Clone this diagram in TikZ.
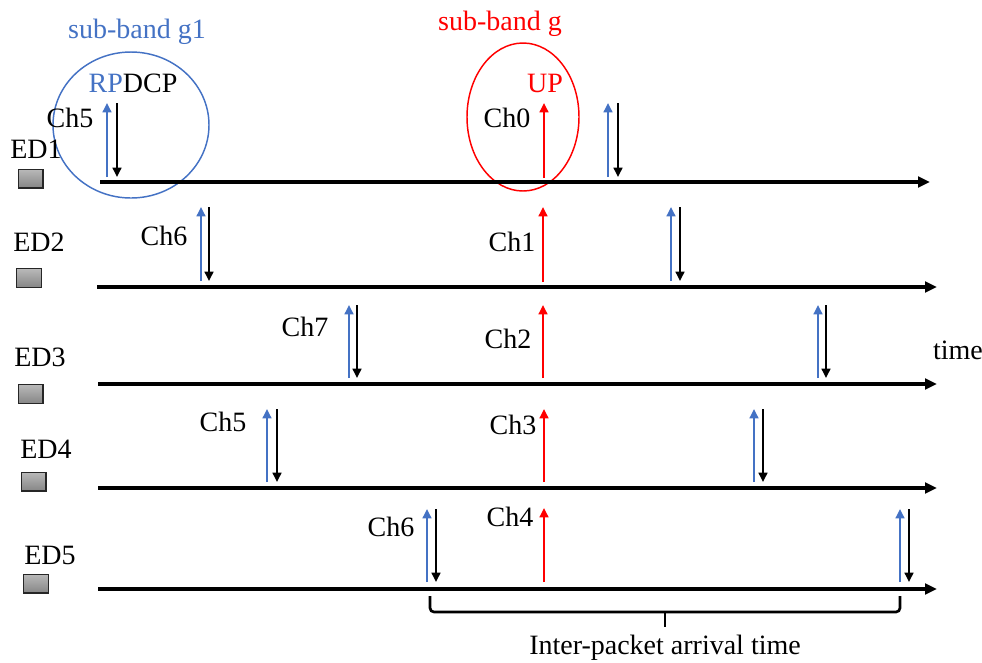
\documentclass[tikz,border=0pt]{standalone}
\usepackage{fontspec}
\setmainfont{Liberation Serif}
\usetikzlibrary{arrows.meta,shapes.geometric}
\definecolor{rpblue}{RGB}{68,114,196}
\definecolor{redup}{RGB}{255,0,0}
\newcommand\rdpair[4]{%
  \draw[rparrow] (#1,#4) -- (#1,#3);
  \draw[dcparrow] (#2,#3) -- (#2,#4);}
\begin{document}
\begin{tikzpicture}[x=0.75pt,y=-0.75pt,
  font=\fontsize{21}{25}\selectfont,
  timeline/.style={line width=2.5pt,-{Triangle[length=9pt,width=8pt]}},
  rparrow/.style={draw=rpblue,line width=2pt,-{Triangle[length=7pt,width=6.5pt]}},
  dcparrow/.style={draw=black,line width=2pt,-{Triangle[length=7pt,width=6.5pt]}},
  uparrow/.style={draw=redup,line width=2pt,-{Triangle[length=7pt,width=6.5pt]}},
  edbox/.style={draw=black!85,line width=1pt,top color=gray!55,bottom color=gray!95,
    minimum width=18.5pt,minimum height=14pt,inner sep=0pt},
  lbl/.style={inner sep=0pt},
  band/.style={draw,ellipse,line width=1.1pt,inner sep=0pt}]
\useasboundingbox (0,0) rectangle (982,662);

% sub-band circles
\node[band,draw=rpblue,minimum width=117pt,minimum height=109.5pt] (g1circ) at (131,125) {};
\node[band,draw=redup,minimum width=84pt,minimum height=111pt] (gcirc) at (523,117) {};
\node[lbl,text=rpblue] (g1lbl) at (137,32) {sub-band g1};
\node[lbl,text=redup] (glbl) at (500,24) {sub-band g};
\node[lbl] (rpdcp) at (133,83) {\textcolor{rpblue}{RP}DCP};
\node[lbl,text=redup] (uplbl) at (545,83) {UP};

% timelines
\coordinate (s1) at (100,182); \coordinate (e1) at (930,182);
\coordinate (s2) at (97,287);  \coordinate (e2) at (937,287);
\coordinate (s3) at (98,384);  \coordinate (e3) at (937,384);
\coordinate (s4) at (98,488);  \coordinate (e4) at (937,488);
\coordinate (s5) at (98,589);  \coordinate (e5) at (937,589);
\draw[timeline] (s1) -- (e1);
\draw[timeline] (s2) -- (e2);
\draw[timeline] (s3) -- (e3);
\draw[timeline] (s4) -- (e4);
\draw[timeline] (s5) -- (e5);
\node[lbl] (time) at (958,350) {time};

% devices
\node[lbl] (ed1) at (36,149) {ED1};
\node[edbox] (b1) at (30.5,178.5) {};
\node[lbl] (ed2) at (39,242) {ED2};
\node[edbox] (b2) at (29,278) {};
\node[lbl] (ed3) at (40,357) {ED3};
\node[edbox] (b3) at (30.5,394) {};
\node[lbl] (ed4) at (46,449) {ED4};
\node[edbox] (b4) at (33.5,481.5) {};
\node[lbl] (ed5) at (50,555) {ED5};
\node[edbox] (b5) at (36,583.5) {};

% ED1
\node[lbl] (c10) at (70,118) {Ch5};
\rdpair{107}{117}{103}{177}
\node[lbl] (c11) at (507,118) {Ch0};
\draw[uparrow] (544,178) -- (544,103);
\rdpair{608}{618}{103}{177}

% ED2
\node[lbl] (c20) at (164,236) {Ch6};
\rdpair{201}{209}{207}{281}
\node[lbl] (c21) at (512,242) {Ch1};
\draw[uparrow] (543,282) -- (543,207);
\rdpair{671}{680}{207}{281}

% ED3
\node[lbl] (c30) at (305,327) {Ch7};
\rdpair{349}{357}{305}{378}
\node[lbl] (c31) at (508,339) {Ch2};
\draw[uparrow] (543,378) -- (543,305);
\rdpair{818}{826}{305}{378}

% ED4
\node[lbl] (c40) at (223,422) {Ch5};
\rdpair{267}{277}{409}{482}
\node[lbl] (c41) at (513,425) {Ch3};
\draw[uparrow] (544,482) -- (544,409);
\rdpair{754}{763}{409}{482}

% ED5
\node[lbl] (c50) at (391,527) {Ch6};
\rdpair{427}{436}{509}{582}
\node[lbl] (c51) at (510,517) {Ch4};
\draw[uparrow] (544,582) -- (544,508);
\rdpair{900}{909}{509}{582}

% bracket
\coordinate (bl) at (430,596); \coordinate (br) at (900,596);
\coordinate (bm) at (665,612); \coordinate (bt) at (665,627);
\draw[line width=2pt,rounded corners=3pt] (bl) -- (430,612) -- (900,612) -- (br);
\draw[line width=2pt] (bm) -- (bt);
\node[lbl] (iat) at (665,648) {Inter-packet arrival time};
\end{tikzpicture}
\end{document}
